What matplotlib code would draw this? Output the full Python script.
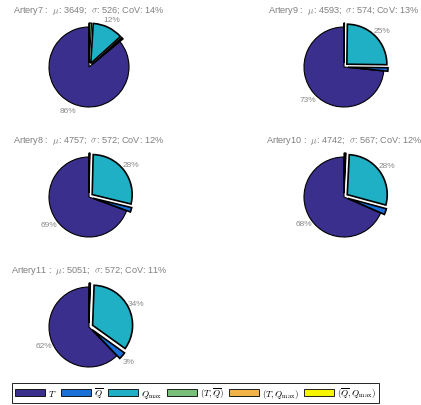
import matplotlib
matplotlib.use('Agg')
import numpy as np
import matplotlib.pyplot as plt
from matplotlib.patches import Patch

plt.rcParams['font.family'] = ['Liberation Sans', 'DejaVu Sans']
plt.rcParams['mathtext.fontset'] = 'cm'

# data: share (%) of each category per artery
arteries = ['Artery7', 'Artery9', 'Artery8', 'Artery10', 'Artery11']
mu = [3649, 4593, 4757, 4742, 5051]
sigma = [526, 574, 572, 567, 572]
cov = [14, 13, 12, 12, 11]
share_T = [86.0, 73.4, 69.4, 68.4, 62.2]
share_Qbar = [0.7, 1.4, 1.8, 2.4, 2.9]
share_Qmax = [12.3, 25.0, 28.4, 28.4, 34.3]
share_TQbar = [0.8, 0.1, 0.2, 0.4, 0.3]
share_TQmax = [0.1, 0.05, 0.1, 0.2, 0.15]
share_QbarQmax = [0.1, 0.05, 0.1, 0.2, 0.15]

labels = [r'$T$', r'$\overline{Q}$', r'$Q_{\max}$', r'$(T,\overline{Q})$',
          r'$(T,Q_{\max})$', r'$(\overline{Q},Q_{\max})$']
colors = ['#3a2f8c', '#1a6fd8', '#1fb0c6', '#78c07a', '#f2b446', '#f5f500']

W, H = 421, 406
fig = plt.figure(figsize=(W / 100, H / 100), dpi=100)

# pie centres in pixels (x, y from top)
centres = [(89, 68), (344, 68), (89, 198), (344, 198), (89, 328)]
R = 40  # pie radius in px
half = 1.6


def pct(p):
    return f'{p:.0f}%' if p >= 2.5 else ''


for i, name in enumerate(arteries):
    cx, cy = centres[i]
    size = 2 * half * R
    ax = fig.add_axes([(cx - half * R) / W, (H - cy - half * R) / H, size / W, size / H])
    vals = [share_T[i], share_Qbar[i], share_Qmax[i],
            share_TQbar[i], share_TQmax[i], share_QbarQmax[i]]
    wedges, _, autotexts = ax.pie(
        vals, colors=colors, startangle=90, counterclock=True,
        explode=[0, 0.1, 0.1, 0.1, 0.1, 0.1], autopct=pct, pctdistance=1.2,
        wedgeprops=dict(edgecolor='black', linewidth=0.8))
    for w in wedges[1:3]:
        w.set_linewidth(1.2)
    for k, (w, t) in enumerate(zip(wedges, autotexts)):
        mid = np.deg2rad((w.theta1 + w.theta2) / 2)
        d = 1.21 if k == 0 else 1.32
        t.set_position((d * np.cos(mid), d * np.sin(mid)))
        t.set_color('#8a8a8a')
        t.set_fontsize(6)
    ax.set_xlim(-half, half)
    ax.set_ylim(-half, half)
    ax.set_aspect('equal')
    ax.axis('off')
    ax.text(0, 1.43, rf'{name} :  $\mu$: {mu[i]};  $\sigma$: {sigma[i]}; CoV: {cov[i]}%',
            ha='center', va='center', fontsize=6.6, color='#7f7f7f', clip_on=False)

handles = [Patch(facecolor=c, edgecolor='black', linewidth=0.6) for c in colors]
leg = fig.legend(handles, labels, loc='lower left', bbox_to_anchor=(12 / W, 2 / H),
                 ncol=6, fontsize=6.5, handlelength=3.3, handleheight=0.8,
                 columnspacing=0.55, handletextpad=0.35, borderpad=0.3,
                 borderaxespad=0, fancybox=False, edgecolor='black', framealpha=1)
leg.get_frame().set_linewidth(0.6)

fig.savefig('out.png', dpi=100)
